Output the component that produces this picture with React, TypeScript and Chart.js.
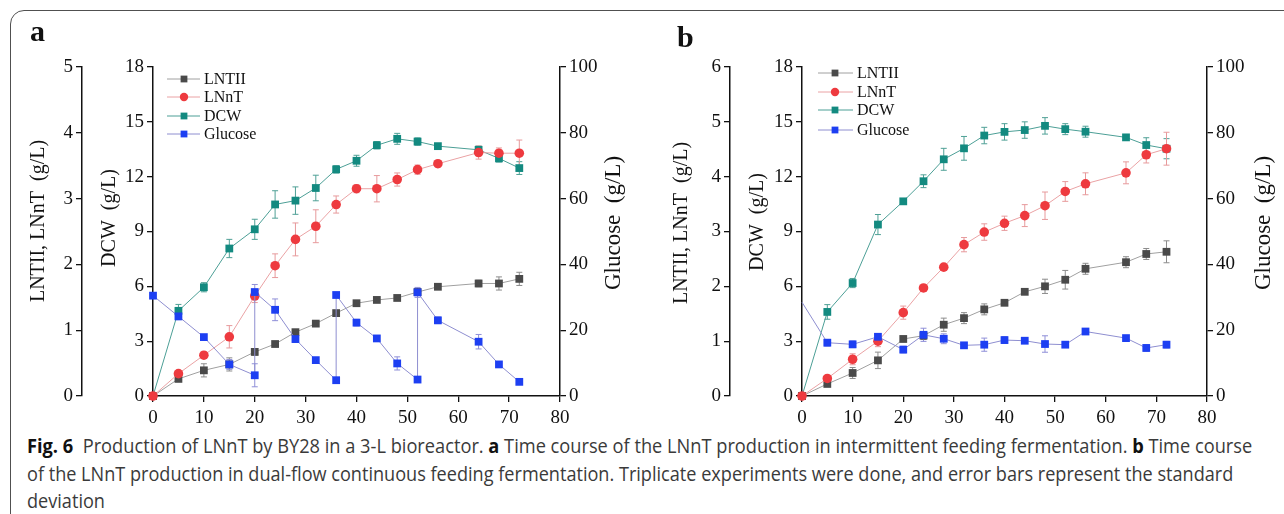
import React, { useEffect, useLayoutEffect, useRef } from 'react';
import { Chart, registerables } from 'chart.js';

Chart.register(...registerables);

// ---------------- Panel a : intermittent feeding ----------------
const timeA = [0, 5, 10, 15, 20, 24, 28, 32, 36, 40, 44, 48, 52, 56, 64, 68, 72];
const lntiiA = [0, 0.26, 0.39, 0.48, 0.67, 0.79, 0.97, 1.10, 1.26, 1.41, 1.46, 1.49, 1.58, 1.66, 1.71, 1.71, 1.78];
const lntiiErrA = [0, 0.03, 0.1, 0.1, 0.05, 0.03, 0.04, 0.03, 0.04, 0.03, 0.03, 0.03, 0.03, 0.03, 0.05, 0.1, 0.1];
const lnntA = [0, 0.34, 0.62, 0.90, 1.52, 1.98, 2.38, 2.58, 2.91, 3.15, 3.15, 3.29, 3.44, 3.53, 3.70, 3.69, 3.69];
const lnntErrA = [0, 0.03, 0.05, 0.17, 0.1, 0.18, 0.25, 0.25, 0.13, 0.06, 0.2, 0.1, 0.07, 0.05, 0.1, 0.08, 0.2];
const dcwA = [0, 4.66, 5.95, 8.07, 9.12, 10.48, 10.69, 11.38, 12.40, 12.87, 13.72, 14.07, 13.92, 13.67, 13.47, 13.0, 12.47];
const dcwErrA = [0, 0.35, 0.25, 0.5, 0.55, 0.75, 0.75, 0.7, 0.2, 0.3, 0.2, 0.3, 0.2, 0.1, 0.2, 0.2, 0.35];
const glucoseTimeA = [0, 5, 10, 15, 20, 20, 24, 28, 32, 36, 36, 40, 44, 48, 52, 52, 56, 64, 68, 72];
const glucoseA = [30.5, 24.2, 17.9, 9.6, 6.3, 31.6, 26.2, 17.3, 10.9, 4.8, 30.7, 22.3, 17.5, 9.9, 5.0, 31.5, 23.0, 16.5, 9.6, 4.3];
const glucoseErrA = [0, 1, 0.8, 1.5, 3.5, 2.3, 3.3, 1, 0.5, 0.5, 0.5, 1, 0.5, 2, 0.5, 1.5, 1, 2.2, 0.5, 0.5];

// ---------------- Panel b : dual-flow continuous feeding ----------------
const timeB = [0, 5, 10, 15, 20, 24, 28, 32, 36, 40, 44, 48, 52, 56, 64, 68, 72];
const lntiiB = [0, 0.22, 0.42, 0.65, 1.04, 1.10, 1.30, 1.42, 1.58, 1.70, 1.90, 2.00, 2.12, 2.32, 2.44, 2.59, 2.63];
const lntiiErrB = [0, 0.03, 0.1, 0.15, 0.05, 0.07, 0.12, 0.1, 0.1, 0.05, 0.05, 0.13, 0.17, 0.1, 0.1, 0.1, 0.2];
const lnntB = [0, 0.32, 0.67, 1.0, 1.52, 1.97, 2.35, 2.76, 2.99, 3.15, 3.29, 3.47, 3.73, 3.87, 4.07, 4.40, 4.51];
const lnntErrB = [0, 0.03, 0.1, 0.1, 0.12, 0.03, 0.05, 0.13, 0.15, 0.13, 0.2, 0.25, 0.18, 0.2, 0.2, 0.15, 0.3];
const dcwB = [0, 4.6, 6.18, 9.38, 10.65, 11.75, 12.95, 13.55, 14.25, 14.45, 14.55, 14.78, 14.6, 14.46, 14.15, 13.73, 13.53];
const dcwErrB = [0, 0.4, 0.25, 0.55, 0.15, 0.35, 0.6, 0.65, 0.45, 0.45, 0.45, 0.45, 0.3, 0.3, 0.1, 0.4, 0.55];
const glucoseTimeB = [0, 5, 10, 15, 20, 24, 28, 32, 36, 40, 44, 48, 52, 56, 64, 68, 72];
const glucoseB = [28.5, 16.2, 15.7, 18.0, 14.1, 18.6, 17.4, 15.4, 15.6, 17.0, 16.8, 15.8, 15.6, 19.6, 17.6, 14.6, 15.6];
const glucoseErrB = [0, 1, 1, 1, 1, 2, 1.5, 0.5, 2, 1, 0.5, 2.5, 0.5, 0.5, 0.5, 1, 1];

// ---------------- labels ----------------
const xTickValues = [0, 10, 20, 30, 40, 50, 60, 70, 80];
const seriesNames = ['LNTII', 'LNnT', 'DCW', 'Glucose'];
const titleLeftOuter = 'LNTII, LNnT  (g/L)';
const titleDcw = 'DCW  (g/L)';
const titleGlucose = 'Glucose  (g/L)';
const captionLine1 = ['Fig. 6', '  Production of LNnT by BY28 in a 3-L bioreactor. ', 'a', ' Time course of the LNnT production in intermittent feeding fermentation. ', 'b', ' Time course'];
const captionLine2 = 'of the LNnT production in dual-flow continuous feeding fermentation. Triplicate experiments were done, and error bars represent the standard';
const captionLine3 = 'deviation';

const SERIF = "'Liberation Serif', 'Times New Roman', 'DejaVu Serif', serif";

const STYLE = {
  LNTII: { fill: '#4a4a4a', line: '#a0a0a0', err: '#8c8c8c', shape: 'rect', r: 5.5 },
  LNnT: { fill: '#ee3a3f', line: '#eaa2a4', err: '#e79a9c', shape: 'circle', r: 4.8 },
  DCW: { fill: '#138a80', line: '#4c9f96', err: '#4fa096', shape: 'rect', r: 5.5 },
  Glucose: { fill: '#1d3ff2', line: '#8e8ed0', err: '#8f8fd8', shape: 'rect', r: 5.5 },
};

type PanelCfg = {
  left: number;
  width: number;
  outerMax: number;
  outerW: number;
  dcwW: number;
  rightW: number;
  series: { name: string; xs: number[]; ys: number[]; errs: number[]; axis: string; hideFirst?: boolean }[];
  titles: { text: string; x: number; y: number; size: number }[];
  legend: { x0: number; x1: number; mx: number; tx: number; ys: number[] };
};

const panelA: PanelCfg = {
  left: 0,
  width: 650,
  outerMax: 5,
  outerW: 82,
  dcwW: 71,
  rightW: 90,
  series: [
    { name: 'Glucose', xs: glucoseTimeA, ys: glucoseA, errs: glucoseErrA, axis: 'yG' },
    { name: 'LNnT', xs: timeA, ys: lnntA, errs: lnntErrA, axis: 'yL' },
    { name: 'LNTII', xs: timeA, ys: lntiiA, errs: lntiiErrA, axis: 'yL' },
    { name: 'DCW', xs: timeA, ys: dcwA, errs: dcwErrA, axis: 'yD' },
  ],
  titles: [
    { text: titleLeftOuter, x: 39, y: 221, size: 20 },
    { text: titleDcw, x: 110, y: 218, size: 20 },
    { text: titleGlucose, x: 614, y: 223, size: 23 },
  ],
  legend: { x0: 167, x1: 200, mx: 184, tx: 204, ys: [79, 97, 116, 134] },
};

const panelB: PanelCfg = {
  left: 650,
  width: 634,
  outerMax: 6,
  outerW: 80,
  dcwW: 72,
  rightW: 77,
  series: [
    { name: 'Glucose', xs: glucoseTimeB, ys: glucoseB, errs: glucoseErrB, axis: 'yG', hideFirst: true },
    { name: 'LNnT', xs: timeB, ys: lnntB, errs: lnntErrB, axis: 'yL' },
    { name: 'LNTII', xs: timeB, ys: lntiiB, errs: lntiiErrB, axis: 'yL' },
    { name: 'DCW', xs: timeB, ys: dcwB, errs: dcwErrB, axis: 'yD' },
  ],
  titles: [
    { text: titleLeftOuter, x: 32, y: 223, size: 20 },
    { text: titleDcw, x: 108, y: 222, size: 20 },
    { text: titleGlucose, x: 614, y: 223, size: 23 },
  ],
  legend: { x0: 168, x1: 203, mx: 185, tx: 207, ys: [73, 92, 110, 130] },
};

function drawMarker(ctx: CanvasRenderingContext2D, shape: string, x: number, y: number, r: number, color: string) {
  ctx.fillStyle = color;
  ctx.beginPath();
  if (shape === 'circle') {
    ctx.arc(x, y, r, 0, Math.PI * 2);
  } else {
    const s = r * Math.SQRT1_2;
    ctx.rect(x - s, y - s, 2 * s, 2 * s);
  }
  ctx.fill();
}

function buildChart(canvas: HTMLCanvasElement, cfg: PanelCfg) {
  const decor = {
    id: 'decor',
    beforeDatasetsDraw(chart: any) {
      const ctx = chart.ctx as CanvasRenderingContext2D;
      const xs = chart.scales.x;
      ctx.save();
      for (let k = cfg.series.length - 1; k >= 0; k--) {
        const s = cfg.series[k];
        const st = (STYLE as any)[s.name];
        const ys = chart.scales[s.axis];
        ctx.strokeStyle = st.err;
        ctx.lineWidth = 1;
        s.xs.forEach((t, i) => {
          const e = s.errs[i];
          if (!e) return;
          const px = xs.getPixelForValue(t);
          const y1 = ys.getPixelForValue(s.ys[i] + e);
          const y2 = ys.getPixelForValue(s.ys[i] - e);
          ctx.beginPath();
          ctx.moveTo(px, y1);
          ctx.lineTo(px, y2);
          ctx.moveTo(px - 3, y1);
          ctx.lineTo(px + 3, y1);
          ctx.moveTo(px - 3, y2);
          ctx.lineTo(px + 3, y2);
          ctx.stroke();
        });
      }
      ctx.restore();
    },
    afterDraw(chart: any) {
      const ctx = chart.ctx as CanvasRenderingContext2D;
      ctx.save();
      ctx.fillStyle = '#111';
      ctx.textAlign = 'center';
      ctx.textBaseline = 'middle';
      cfg.titles.forEach((t) => {
        ctx.save();
        ctx.font = `${t.size}px ${SERIF}`;
        ctx.translate(t.x, t.y);
        ctx.rotate(-Math.PI / 2);
        ctx.fillText(t.text, 0, 0);
        ctx.restore();
      });
      const L = cfg.legend;
      ctx.font = `16px ${SERIF}`;
      ctx.textAlign = 'left';
      seriesNames.forEach((name, i) => {
        const st = (STYLE as any)[name];
        const y = L.ys[i];
        ctx.strokeStyle = st.line;
        ctx.lineWidth = 1;
        ctx.beginPath();
        ctx.moveTo(L.x0, y);
        ctx.lineTo(L.x1, y);
        ctx.stroke();
        drawMarker(ctx, st.shape, L.mx, y, st.shape === 'circle' ? 4.2 : 4.8, st.fill);
        ctx.fillStyle = '#111';
        ctx.fillText(name, L.tx, y + 1);
      });
      ctx.restore();
    },
  };

  const tickFont = { family: SERIF, size: 19 };
  const yBase = (pos: string) => ({
    type: 'linear',
    position: pos,
    grid: { drawOnChartArea: false, tickLength: 6, color: '#111', lineWidth: 1.3 },
    border: { color: '#111', width: 1.5 },
    ticks: { font: tickFont, color: '#111', padding: 3 },
  });

  const datasets = cfg.series.map((s) => {
    const st = (STYLE as any)[s.name];
    return {
      label: s.name,
      data: s.xs.map((x, i) => ({ x, y: s.ys[i] })),
      yAxisID: s.axis,
      borderColor: st.line,
      backgroundColor: st.fill,
      pointBackgroundColor: st.fill,
      pointBorderColor: st.fill,
      pointBorderWidth: 0,
      pointStyle: st.shape,
      pointRadius: s.xs.map((_, i) => (s.hideFirst && i === 0 ? 0 : st.r)),
      borderWidth: 1,
      showLine: true,
      tension: 0,
      clip: false,
    };
  });

  return new Chart(canvas, {
    type: 'line',
    data: { datasets },
    plugins: [decor],
    options: {
      responsive: false,
      animation: false,
      events: [],
      layout: { padding: { top: 67, left: 0, right: 0, bottom: 0 } },
      plugins: { legend: { display: false }, tooltip: { enabled: false } },
      scales: {
        x: {
          type: 'linear',
          position: 'bottom',
          min: 0,
          max: 80,
          grid: { drawOnChartArea: false, tickLength: 6, color: '#111', lineWidth: 1.3 },
          border: { color: '#111', width: 1.5 },
          ticks: {
            font: tickFont,
            color: '#111',
            padding: 5,
            stepSize: 10,
            autoSkip: false,
            maxRotation: 0,
            callback: (v: number) => (xTickValues.includes(v) ? String(v) : ''),
          },
          afterFit: (s: any) => {
            s.height = 34;
          },
        },
        yD: {
          ...yBase('left'),
          min: 0,
          max: 18,
          weight: 1,
          ticks: { ...yBase('left').ticks, stepSize: 3 },
          afterFit: (s: any) => {
            s.width = cfg.dcwW;
          },
        },
        yL: {
          ...yBase('left'),
          min: 0,
          max: cfg.outerMax,
          weight: 2,
          ticks: { ...yBase('left').ticks, stepSize: 1 },
          afterFit: (s: any) => {
            s.width = cfg.outerW;
          },
        },
        yG: {
          ...yBase('right'),
          min: 0,
          max: 100,
          ticks: { ...yBase('right').ticks, stepSize: 20 },
          afterFit: (s: any) => {
            s.width = cfg.rightW;
          },
        },
      },
    } as any,
  });
}

function Panel({ cfg }: { cfg: PanelCfg }) {
  const ref = useRef<HTMLCanvasElement>(null);
  useEffect(() => {
    if (!ref.current) return;
    const chart = buildChart(ref.current, cfg);
    return () => chart.destroy();
  }, [cfg]);
  return (
    <canvas
      ref={ref}
      width={cfg.width}
      height={430}
      style={{ position: 'absolute', left: cfg.left, top: 0, width: cfg.width, height: 430 }}
    />
  );
}

const CAPTION_FONT = "'Open Sans', 'Noto Sans', 'DejaVu Sans', sans-serif";

export default function App() {
  const l1 = useRef<HTMLDivElement>(null);
  const l2 = useRef<HTMLDivElement>(null);
  const l3 = useRef<HTMLDivElement>(null);

  useLayoutEffect(() => {
    const fit = (el: HTMLDivElement | null, target: number) => {
      if (!el) return 1;
      const w = el.scrollWidth;
      const k = w > 0 ? target / w : 1;
      el.style.transform = `scaleX(${k})`;
      return k;
    };
    fit(l1.current, 1225);
    const k2 = fit(l2.current, 1206);
    if (l3.current) l3.current.style.transform = `scaleX(${k2})`;
  }, []);

  const lineStyle: React.CSSProperties = {
    position: 'absolute',
    left: 27,
    whiteSpace: 'pre',
    fontFamily: CAPTION_FONT,
    fontSize: 20,
    lineHeight: '28px',
    color: '#3a3a3a',
    transformOrigin: '0 0',
    display: 'inline-block',
  };

  return (
    <div
      style={{
        position: 'absolute',
        left: 0,
        top: 0,
        width: 1284,
        height: 514,
        overflow: 'hidden',
        background: '#fff',
      }}
    >
      <div
        style={{
          position: 'absolute',
          left: 10,
          top: 10,
          width: 1320,
          height: 560,
          border: '1.5px solid #505050',
          borderTopLeftRadius: 14,
          boxSizing: 'border-box',
        }}
      />
      <Panel cfg={panelA} />
      <Panel cfg={panelB} />
      <div style={{ position: 'absolute', left: 30, top: 16, font: `bold 30px ${SERIF}`, lineHeight: '30px', color: '#111' }}>a</div>
      <div style={{ position: 'absolute', left: 677, top: 22, font: `bold 30px ${SERIF}`, lineHeight: '30px', color: '#111' }}>b</div>
      <div ref={l1} style={{ ...lineStyle, top: 432 }}>
        <b style={{ color: '#111' }}>{captionLine1[0]}</b>
        {captionLine1[1]}
        <b style={{ color: '#111' }}>{captionLine1[2]}</b>
        {captionLine1[3]}
        <b style={{ color: '#111' }}>{captionLine1[4]}</b>
        {captionLine1[5]}
      </div>
      <div ref={l2} style={{ ...lineStyle, top: 460 }}>
        {captionLine2}
      </div>
      <div ref={l3} style={{ ...lineStyle, top: 487 }}>
        {captionLine3}
      </div>
    </div>
  );
}
